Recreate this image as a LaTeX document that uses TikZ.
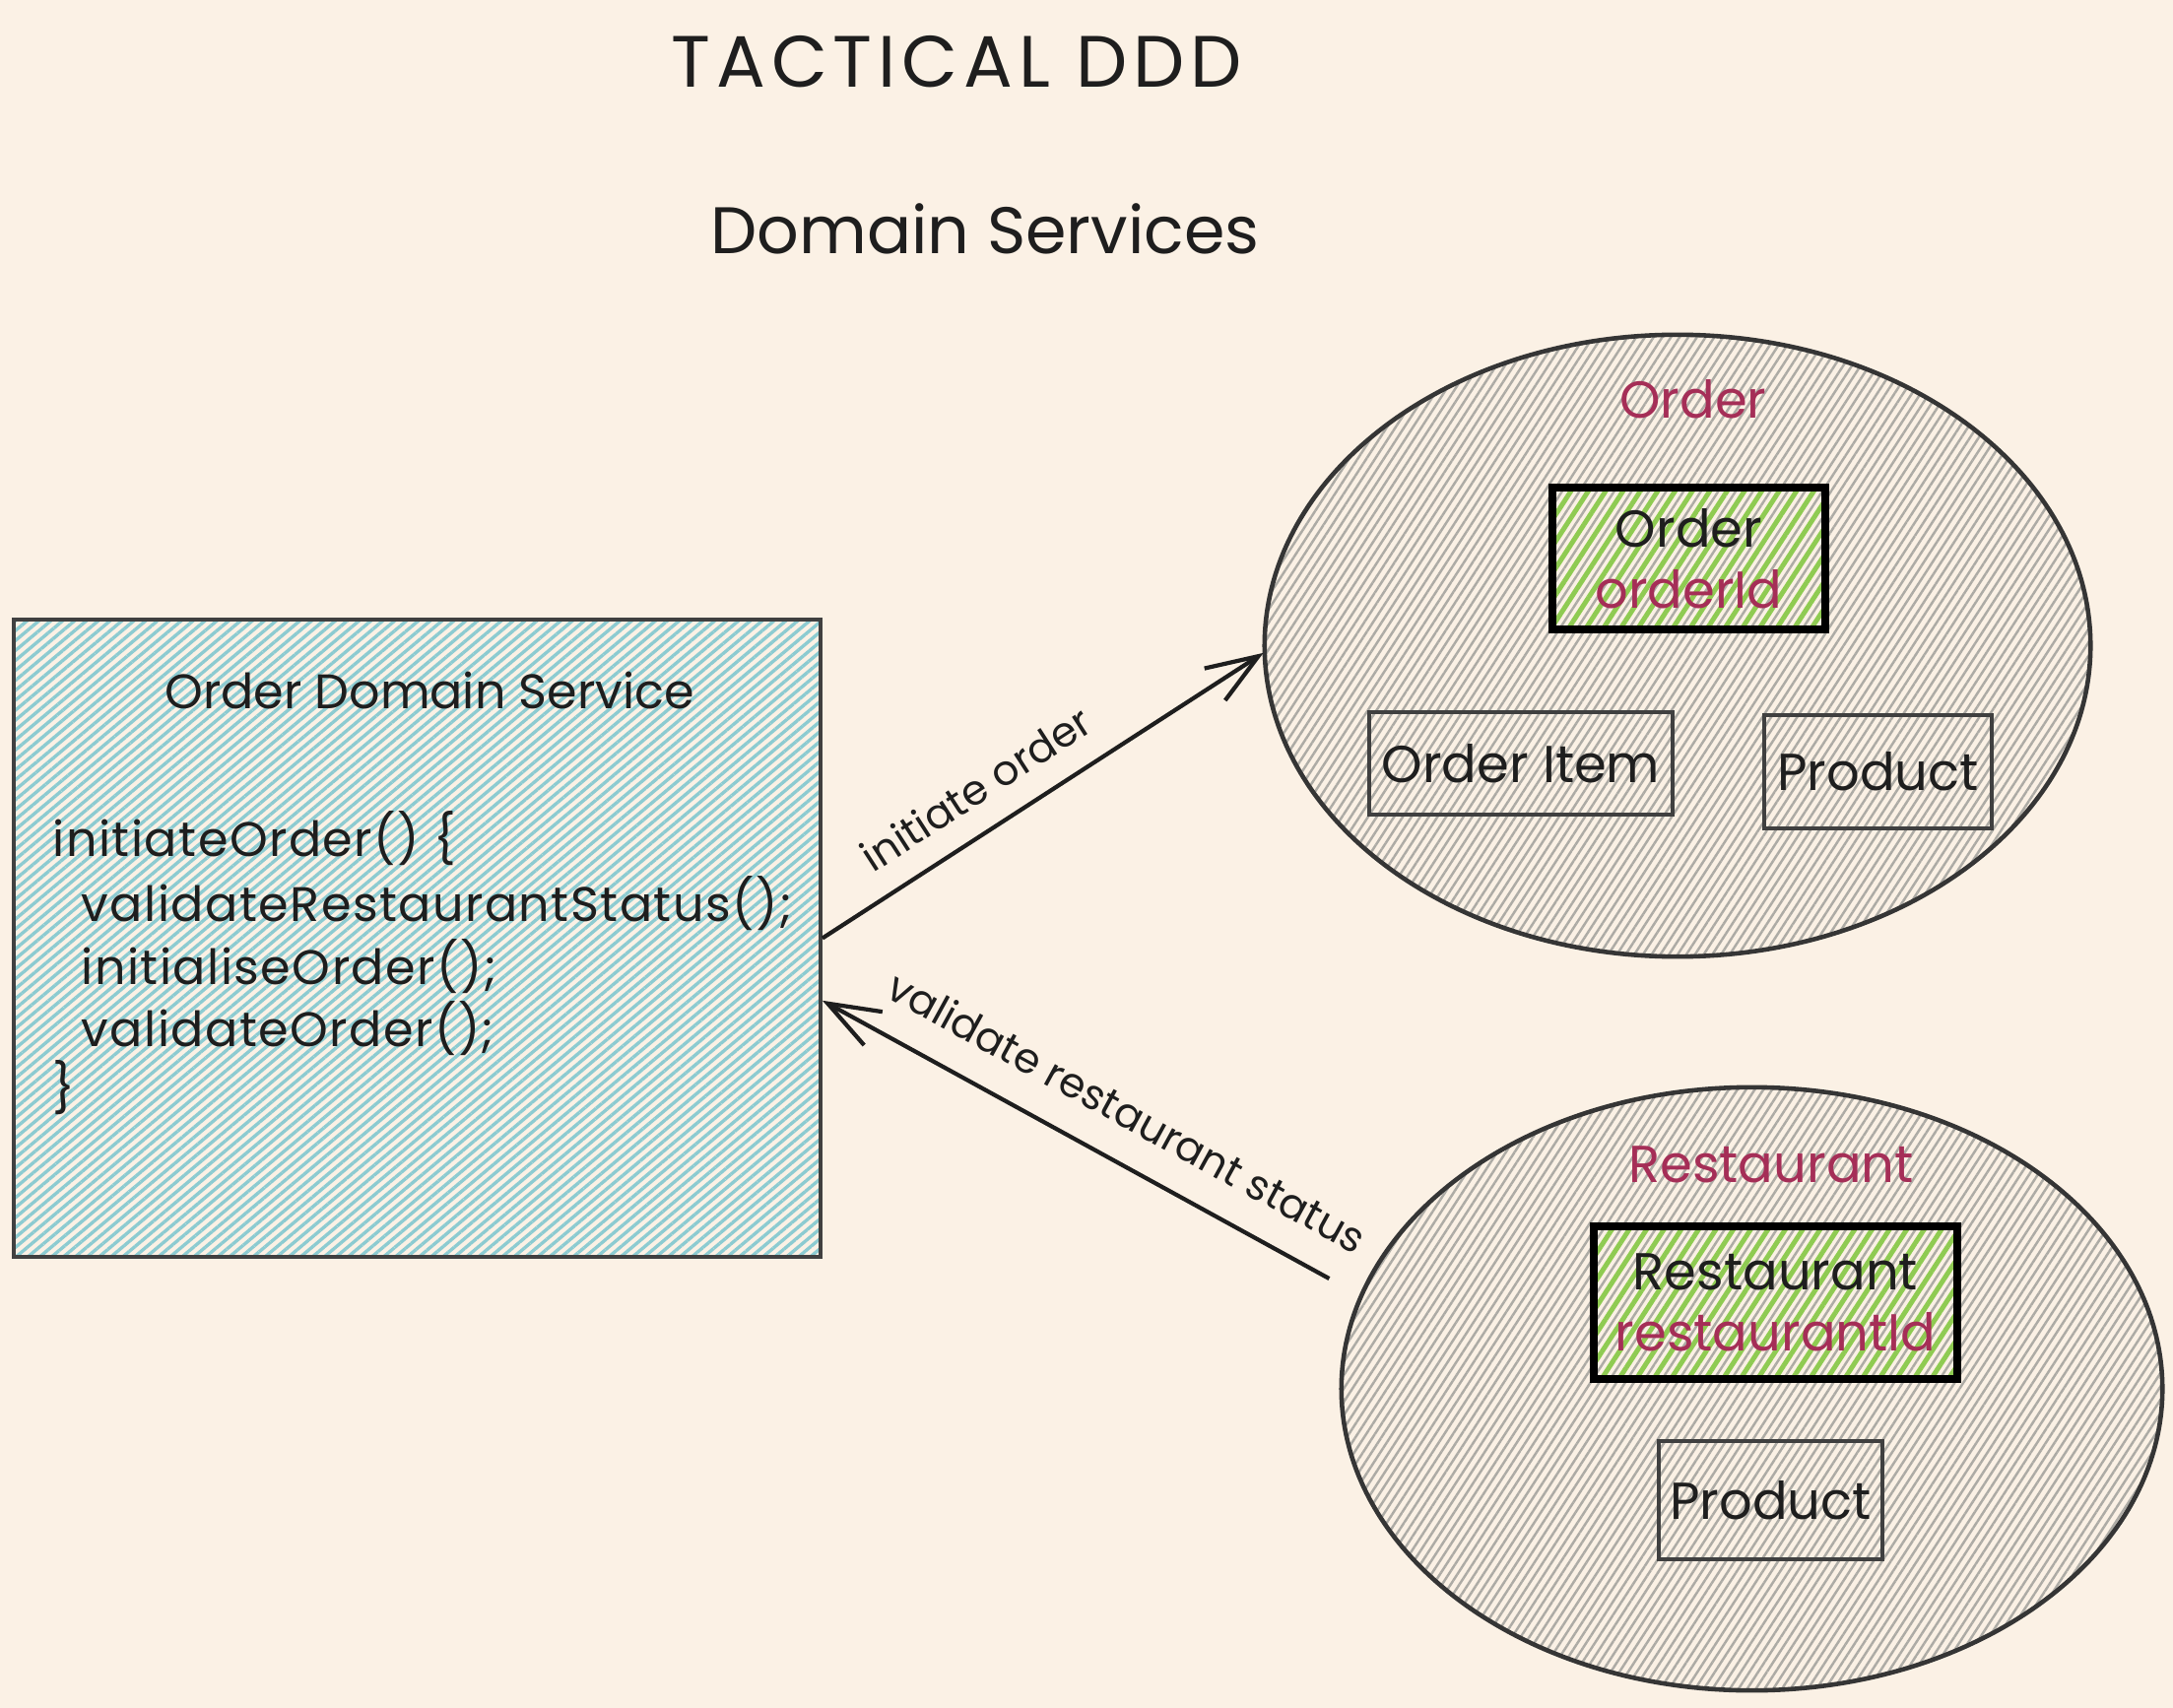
\documentclass[tikz,border=0pt]{standalone}
\usepackage{fontspec}
\setmainfont{Poppins}
\usetikzlibrary{shapes.geometric,patterns.meta,arrows.meta}
\definecolor{bgcream}{HTML}{FBF1E5}
\definecolor{cteal}{HTML}{8CCBD1}
\definecolor{hgray}{HTML}{ADABA5}
\definecolor{hgreen}{HTML}{8FCB52}
\definecolor{idred}{HTML}{A52E57}
\definecolor{ink}{HTML}{1E1E1E}
\tikzset{
  txt/.style={font=\fontsize{14}{16}\selectfont, text=ink, inner sep=0pt},
  codetxt/.style={font=\fontsize{14}{16}\selectfont\addfontfeature{LetterSpace=3}, text=ink, inner sep=0pt, anchor=west},
  titletxt/.style={font=\fontsize{21}{25}\selectfont\addfontfeature{LetterSpace=8}, text=ink, inner sep=0pt},
  subtitletxt/.style={font=\fontsize{19}{23}\selectfont, text=ink, inner sep=0pt},
  elabel/.style={font=\fontsize{12}{14}\selectfont, text=ink, inner sep=1pt},
  svcbox/.style={draw=ink!85, line width=1.1pt, pattern={Lines[angle=40,distance=2.2pt,line width=0.95pt]}, pattern color=cteal, inner sep=0pt},
  aggbubble/.style={ellipse, draw=ink!90, line width=1.3pt, pattern={Lines[angle=57,distance=2.1pt,line width=0.7pt]}, pattern color=hgray, inner sep=0pt},
  rootbox/.style={draw=black, line width=2.2pt, pattern={Lines[angle=57,distance=4.2pt,line width=1.4pt]}, pattern color=hgreen, inner sep=0pt, align=center, font=\fontsize{15}{17.5}\selectfont, text=ink},
  entbox/.style={draw=ink!85, line width=1.1pt, inner sep=0pt, font=\fontsize{15}{17}\selectfont, text=ink},
  flow/.style={draw=ink, line width=1.2pt, -{Straight Barb[length=15pt,width=11pt,line width=1.2pt]}},
}
\begin{document}
\begin{tikzpicture}[x=0.01cm,y=-0.01cm]
\fill[bgcream] (0,0) rectangle (2206,1734);
\useasboundingbox (0,0) rectangle (2206,1734);

% titles
\node[titletxt] (t1) at (971,63) {TACTICAL DDD};
\node[subtitletxt] (t2) at (1000,232) {Domain Services};

% service box
\node[svcbox, minimum width=8.19cm, minimum height=6.47cm] (svc) at (423.5,952.5) {};
\node[txt] (svct) at (436,701) {Order Domain Service};
\node[codetxt] (c1) at (53,851) {initiateOrder() \{};
\node[codetxt] (c2) at (82,917) {validateRestaurantStatus();};
\node[codetxt] (c3) at (82,981) {initialiseOrder();};
\node[codetxt] (c4) at (82,1044) {validateOrder();};
\node[codetxt] (c5) at (53,1104) {\}};

% Order aggregate
\node[aggbubble, minimum width=8.38cm, minimum height=6.31cm] (ord) at (1703,655.5) {};
\node[txt, text=idred, font=\fontsize{15}{17}\selectfont] (ordl) at (1719,405) {Order};
\node[rootbox, minimum width=2.77cm, minimum height=1.44cm] (ordroot) at (1714.5,567) {Order\\\textcolor{idred}{orderId}};
\node[entbox, minimum width=3.08cm, minimum height=1.04cm] (oitem) at (1544,775) {Order Item};
\node[entbox, minimum width=2.31cm, minimum height=1.15cm] (oprod) at (1906.5,783.5) {Product};

% Restaurant aggregate
\node[aggbubble, minimum width=8.33cm, minimum height=6.12cm] (rst) at (1778.5,1410) {};
\node[txt, text=idred, font=\fontsize{15}{17}\selectfont] (rstl) at (1798,1182) {Restaurant};
\node[rootbox, minimum width=3.69cm, minimum height=1.55cm] (rstroot) at (1802.5,1322.5) {Restaurant\\\textcolor{idred}{restaurantId}};
\node[entbox, minimum width=2.27cm, minimum height=1.20cm] (rprod) at (1797.5,1523) {Product};

% connectors
\draw[flow] (svc.east) -- (ord.181)
  node[elabel, pos=0.4, sloped, above=6pt] (l1) {initiate order};
\draw[flow] ([xshift=-11pt]rst.164) -- ([yshift=-18pt]svc.east)
  node[elabel, pos=0.445, sloped, above=8pt] (l2) {validate restaurant status};
\end{tikzpicture}
\end{document}
